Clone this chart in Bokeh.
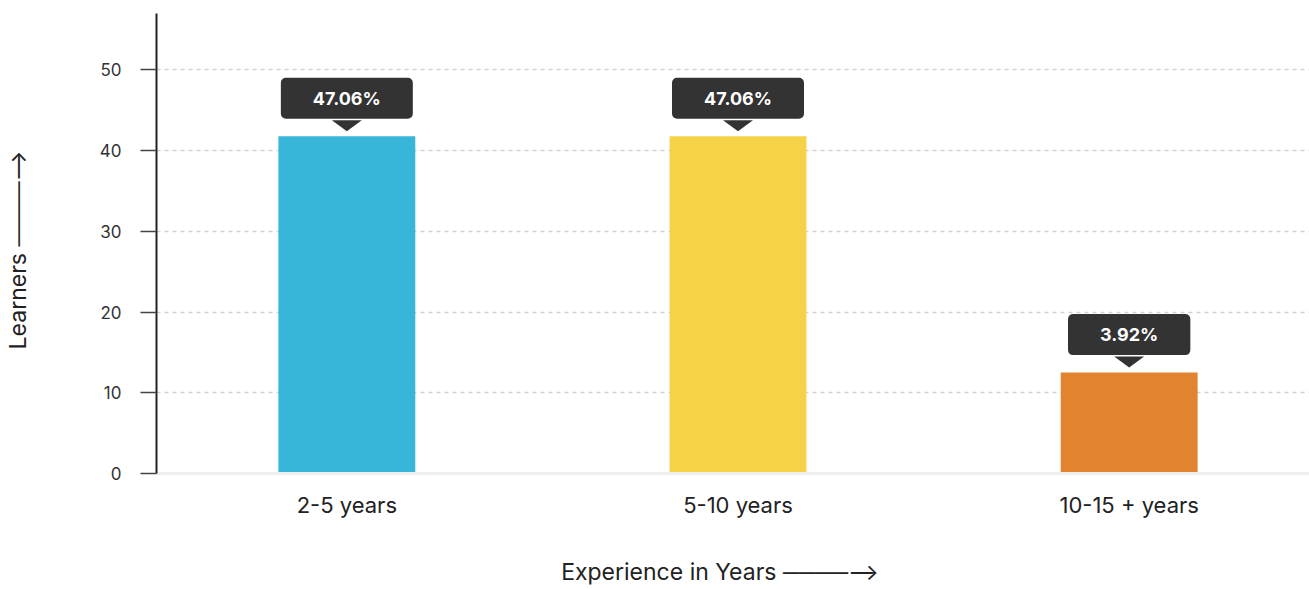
from bokeh.plotting import figure
from bokeh.models import Range1d, FixedTicker, ColumnDataSource
from bokeh.core.properties import value
from bokeh.embed import file_html
from bokeh.resources import INLINE

categories = ["2-5 years", "5-10 years", "10-15 + years"]
learners = [41.8, 41.8, 12.5]
percent_labels = ["47.06%", "47.06%", "3.92%"]
bar_colors = ["#38B6D9", "#F5D247", "#E2842F"]
y_ticks = [0, 10, 20, 30, 40, 50]
y_axis_title = "Learners   ────⟶"
x_axis_title = "Experience  in Years    ────⟶"

FONT = "Inter"
W, H = 1309, 589
BL, BR, BT, BB = 155, 0, 13, 116
frame_w = W - BL - BR
frame_h = H - BT - BB
x_start, x_end = -0.4866, 2.461
y_start, y_end = 0, 57
px_x = frame_w / (x_end - x_start)
px_y = frame_h / (y_end - y_start)

xs = list(range(len(categories)))

p = figure(width=W, height=H, x_range=Range1d(x_start, x_end), y_range=Range1d(y_start, y_end),
           output_backend="svg", toolbar_location=None,
           min_border_left=BL, min_border_right=BR, min_border_top=BT, min_border_bottom=BB)
p.outline_line_color = None
p.background_fill_color = "white"
p.border_fill_color = "white"

# grid
p.xgrid.grid_line_color = None
p.ygrid.ticker = FixedTicker(ticks=y_ticks)
p.ygrid.grid_line_color = "#d2d2d2"
p.ygrid.grid_line_dash = "4 4"
p.ygrid.grid_line_width = 1.5

# bars
src = ColumnDataSource(dict(x=xs, top=learners, color=bar_colors, label=percent_labels))
p.vbar(x="x", top="top", width=137 / px_x, fill_color="color", line_color=None, source=src)

# callout pointers
tri_xs, tri_ys = [], []
for i, v in zip(xs, learners):
    hx = 15 / px_x
    base = v + 16 / px_y
    tip = v + 5 / px_y
    tri_xs.append([i - hx, i + hx, i])
    tri_ys.append([base, base, tip])
p.patches(tri_xs, tri_ys, fill_color="#333333", line_color=None)

# callout boxes
p.text(x="x", y="top", text="label", source=src, y_offset=-38,
       text_align="center", text_baseline="middle", text_color="white",
       text_font=value(FONT), text_font_style="bold", text_font_size="18px",
       background_fill_color="#333333", border_radius=5,
       padding=dict(left=32, right=32, top=10, bottom=10))

# y axis
ya = p.yaxis[0]
ya.ticker = FixedTicker(ticks=y_ticks)
ya.axis_line_color = "#222222"
ya.axis_line_width = 2
ya.major_tick_out = 16
ya.major_tick_in = 0
ya.major_tick_line_color = "#444444"
ya.major_tick_line_width = 1.5
ya.minor_tick_line_color = None
ya.major_label_text_font = FONT
ya.major_label_text_font_size = "17px"
ya.major_label_text_color = "#333333"
ya.major_label_standoff = 19
ya.axis_label = y_axis_title
ya.axis_label_text_font = FONT
ya.axis_label_text_font_style = "normal"
ya.axis_label_text_font_size = "23px"
ya.axis_label_text_color = "#222222"
ya.axis_label_standoff = 65

# x axis
xa = p.xaxis[0]
xa.ticker = FixedTicker(ticks=xs)
xa.major_label_overrides = {i: c for i, c in zip(xs, categories)}
xa.axis_line_color = "#eeeeee"
xa.axis_line_width = 3
xa.major_tick_line_color = None
xa.minor_tick_line_color = None
xa.major_label_text_font = FONT
xa.major_label_text_font_size = "22px"
xa.major_label_text_color = "#222222"
xa.major_label_standoff = 12
xa.axis_label = x_axis_title
xa.axis_label_text_font = FONT
xa.axis_label_text_font_style = "normal"
xa.axis_label_text_font_size = "23px"
xa.axis_label_text_color = "#222222"
xa.axis_label_standoff = 37

open("out.html", "w").write(file_html(p, INLINE))
